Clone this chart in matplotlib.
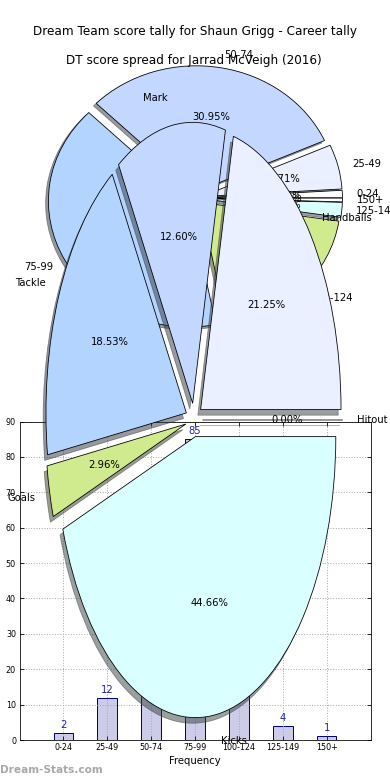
import numpy as np
import matplotlib
matplotlib.use('Agg')
import matplotlib.pyplot as plt

plt.rcParams['font.family'] = ['DejaVu Sans']

# =========================================================
# data
# =========================================================
score_bins = ['0-24', '25-49', '50-74', '75-99', '100-124', '125-149', '150+']
score_counts = [2, 12, 65, 85, 41, 4, 1]

stat_labels = ['Hitout', 'Handballs', 'Mark', 'Tackle', 'Goals', 'Kicks']
stat_pcts = [0.00, 21.25, 12.60, 18.53, 2.96, 44.66]

pie_colors = ['#FFFFFF', '#EAF0FF', '#C3D7FF', '#B3D4FF', '#D0EA8E', '#D9FFFF']

title_career = 'Dream Team score tally for Shaun Grigg - Career tally'
title_spread = 'DT score spread for Jarrad McVeigh (2016)'

# =========================================================
W, H = 390, 780
fig = plt.figure(figsize=(W / 72, H / 72), dpi=72)

wedge_kw = {'edgecolor': 'black', 'linewidth': 0.8}
shadow_kw = {'ox': -0.02, 'oy': -0.02, 'shade': 0.75}

# bar chart (drawn first, sits under the pies)
ax_bar = fig.add_axes([19.5 / W, 40 / H, 351 / W, 318.5 / H])
x = np.arange(len(score_bins))
bars = ax_bar.bar(x, score_counts, width=0.45, color=(0, 0, 0.55, 0.2),
                  edgecolor='#00008B', linewidth=1)
ax_bar.bar_label(bars, padding=3, color='#2020A0', fontsize=10)
ax_bar.set_xlim(-1, 7)
ax_bar.set_ylim(0, 90)
ax_bar.set_yticks(range(0, 91, 10))
ax_bar.set_xticks(x)
ax_bar.set_xticklabels(score_bins)
ax_bar.tick_params(labelsize=8, direction='in', top=True, right=True, length=4)
ax_bar.grid(True, linestyle=':', color='#aaaaaa', linewidth=1)
ax_bar.set_xlabel('Frequency', fontsize=10)

# score spread pie
ax_a = fig.add_axes([19.5 / W, 424.5 / H, 351 / W, 315 / H])
ax_a.pie(score_counts, labels=score_bins, colors=pie_colors,
         explode=[0.05] * len(score_counts), autopct='%1.2f%%',
         shadow=shadow_kw, startangle=0, wedgeprops=wedge_kw,
         textprops={'fontsize': 10})
ax_a.set_aspect('auto')
ax_a.set_xlim(-1.25, 1.25)
ax_a.set_ylim(-1.25, 1.25)
ax_a.set_title(title_career, fontsize=12, pad=6)

# stat tally pie
ax_b = fig.add_axes([18.5 / W, 8.75 / H, 351 / W, 702.5 / H])
ax_b.pie(stat_pcts, labels=stat_labels, colors=pie_colors,
         explode=[0.06] * len(stat_pcts), autopct='%1.2f%%',
         shadow=shadow_kw, startangle=0, wedgeprops=wedge_kw,
         textprops={'fontsize': 10})
ax_b.set_aspect('auto')
ax_b.set_xlim(-1.25, 1.25)
ax_b.set_ylim(-1.25, 1.25)
ax_b.set_title(title_spread, fontsize=12, pad=4.5)

fig.text(0.0, 10 / H, 'Dream-Stats.com', fontsize=10.5, fontweight='bold',
         color='#a8a8a8', va='center', ha='left')

fig.savefig('out.png', dpi=72)
